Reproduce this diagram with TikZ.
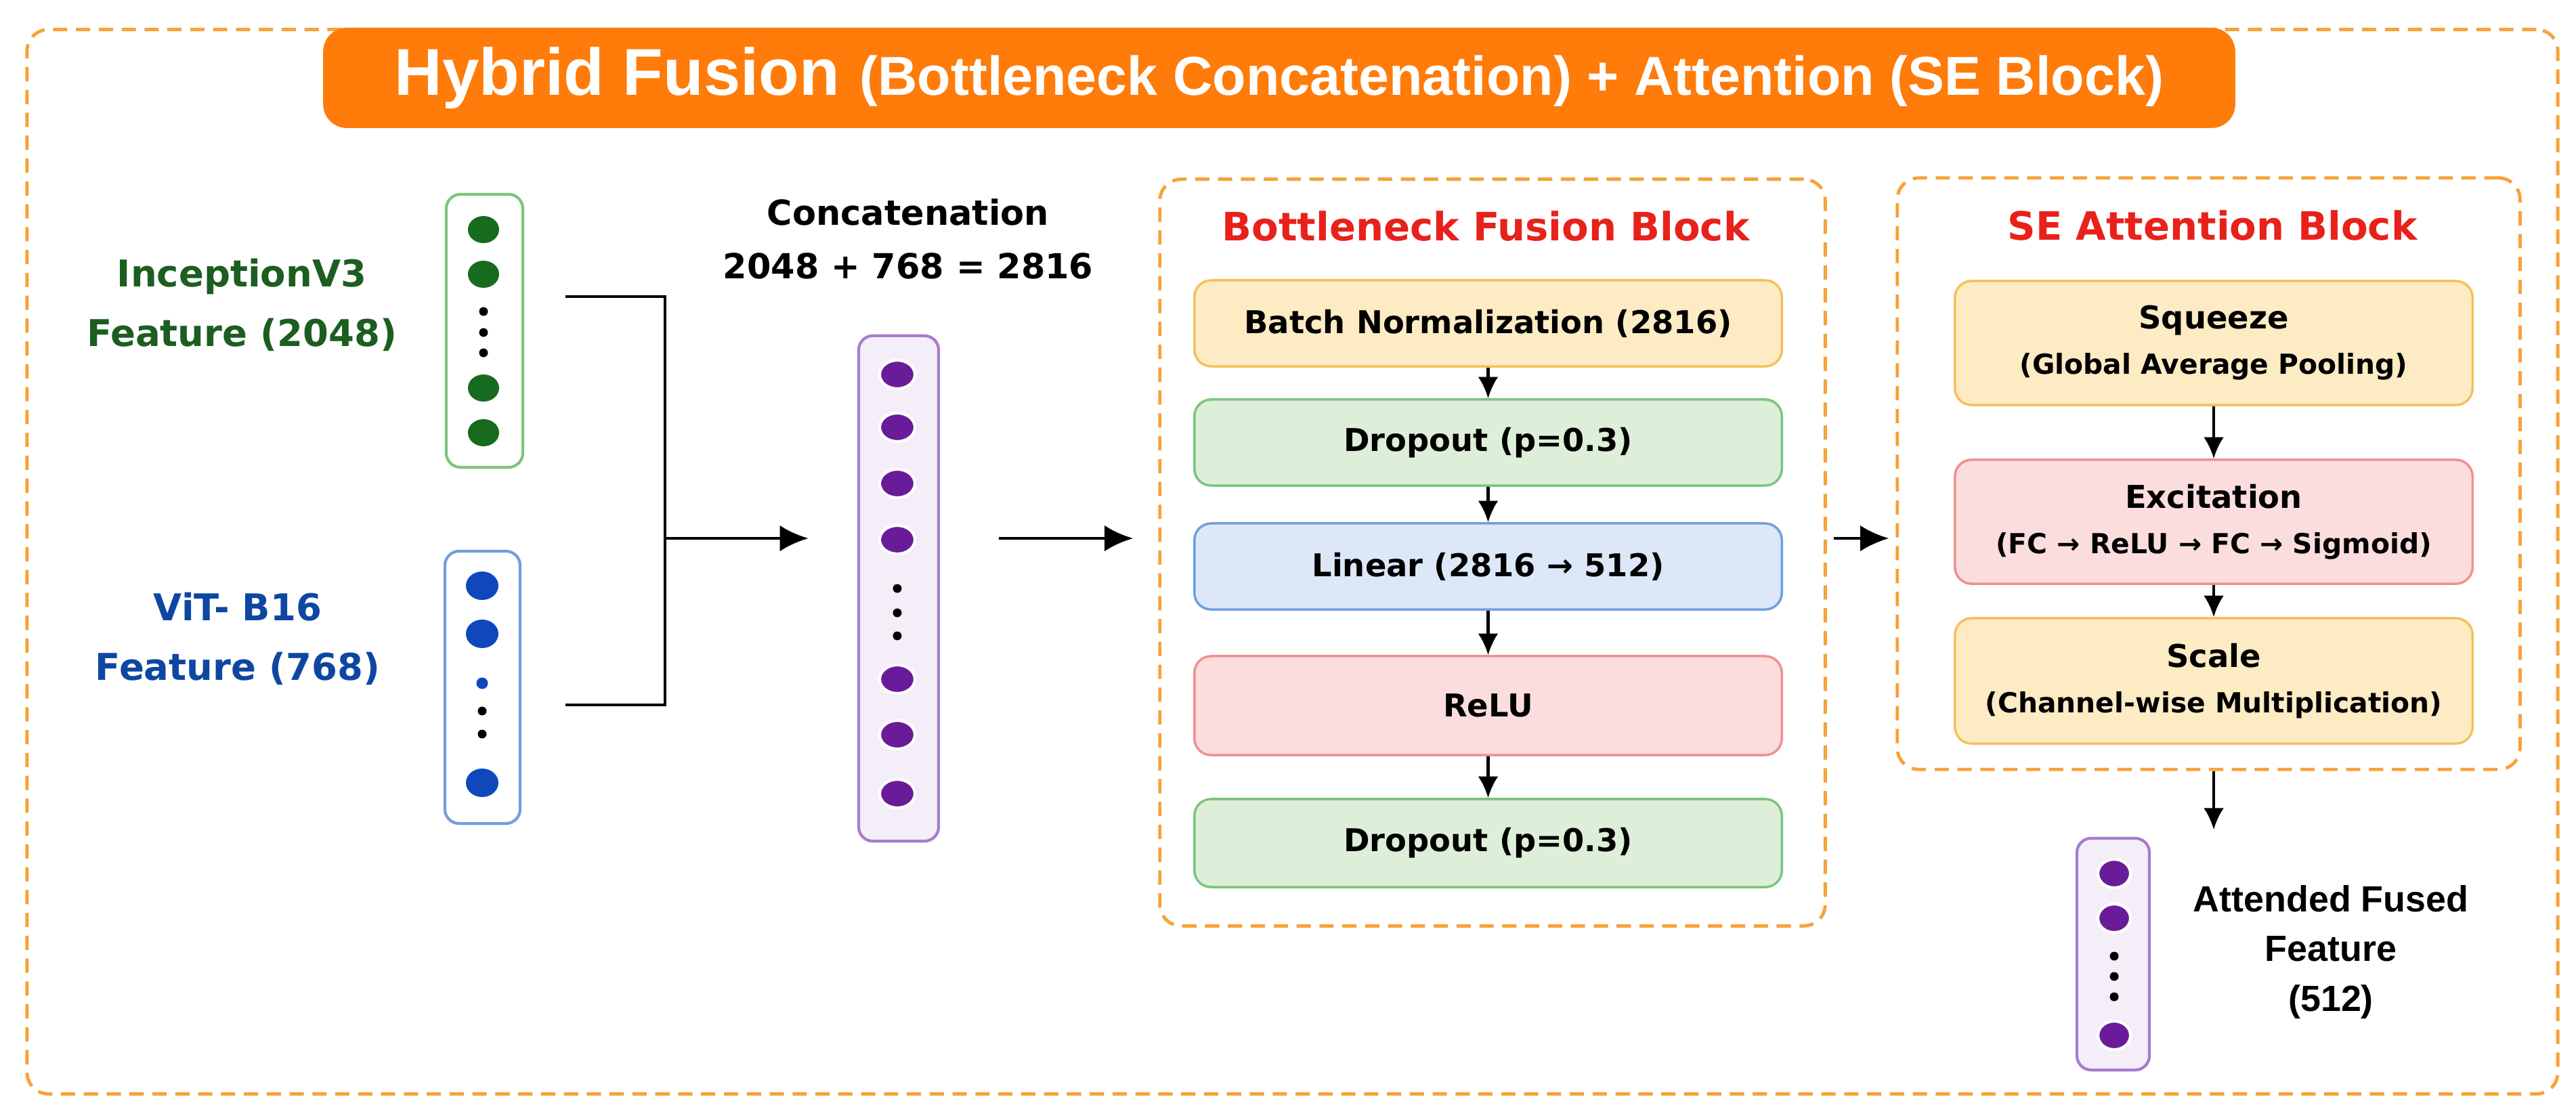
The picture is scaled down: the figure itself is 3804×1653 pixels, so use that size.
\documentclass[tikz,border=0pt]{standalone}
\usepackage{fontspec}
\setmainfont{DejaVu Sans}
\newfontfamily\arialfont{Liberation Sans}
\usetikzlibrary{arrows.meta}

\definecolor{frameorange}{HTML}{F7A23A}
\definecolor{bannerorange}{HTML}{FF7B0A}
\definecolor{titlered}{HTML}{E8211B}
\definecolor{incgreen}{HTML}{1B5E20}
\definecolor{vitblue}{HTML}{0D47A1}
\definecolor{yelfill}{HTML}{FDEBC4}
\definecolor{yeldraw}{HTML}{F5C05C}
\definecolor{grnfill}{HTML}{DDEFD8}
\definecolor{grndraw}{HTML}{7DC47E}
\definecolor{blufill}{HTML}{DCE8F8}
\definecolor{bludraw}{HTML}{6FA0DE}
\definecolor{redfill}{HTML}{FCDDDD}
\definecolor{reddraw}{HTML}{F19090}
\definecolor{purdraw}{HTML}{A67CCF}
\definecolor{purfill}{HTML}{F4EEF9}
\definecolor{purdot}{HTML}{6A1B9A}
\definecolor{grndot}{HTML}{166B1E}
\definecolor{bludot}{HTML}{1048BC}

\begin{document}
\begin{tikzpicture}[x=0.01cm, y=-0.01cm,
	frame/.style={draw=frameorange, line width=1.4pt, dash pattern=on 6pt off 3.6pt, rounded corners=9pt},
	blocktitle/.style={text=titlered, font=\fontsize{16.4}{19}\selectfont\bfseries},
	layer/.style={draw=#1draw, fill=#1fill, line width=1pt, rounded corners=7pt, align=center, font=\fontsize{13.2}{19}\selectfont\bfseries},
	vecbox/.style={draw=#1, line width=1.2pt, rounded corners=6pt},
	label/.style={align=center, font=\fontsize{15.5}{25}\selectfont\bfseries},
	arr/.style={-{Latex[length=9pt,width=8.5pt]}, line width=1.2pt},
	bigarr/.style={-{Latex[length=12pt,width=11pt]}, line width=1.4pt}]
	\useasboundingbox[fill=white] (0,0) rectangle (3804,1653);
	% outer frame and banner
	\node[frame, minimum width=37.35cm, minimum height=15.71cm] (outer) at (1908.5,829.5) {};
	\node[fill=bannerorange, rounded corners=10pt, minimum width=28.22cm, minimum height=1.48cm, text=white, font=\arialfont\bfseries] (banner) at (1889,115)
		{\fontsize{27.8}{30}\selectfont Hybrid Fusion\hspace{0.3em}\fontsize{23}{30}\selectfont(Bottleneck Concatenation) + Attention (SE Block)};
	% input vectors
	\node[vecbox=grndraw, minimum width=1.13cm, minimum height=4.03cm] (incvec) at (715.5,488.5) {};
	\node[vecbox=bludraw, minimum width=1.11cm, minimum height=4.02cm] (vitvec) at (712.5,1015) {};
	\foreach \y in {339,405,573,639} \fill[grndot] (714,\y) ellipse (0.23cm and 0.2cm);
	\foreach \y in {460,491,521} \fill (714,\y) circle (0.065cm);
	\foreach \y in {865,936,1156} \fill[bludot] (712,\y) ellipse (0.24cm and 0.21cm);
	\fill[bludot] (712,1009) circle (0.085cm);
	\foreach \y in {1050,1084} \fill (712,\y) circle (0.065cm);
	\node[label, text=incgreen] (inclabel) at (357,450) {InceptionV3\\Feature (2048)};
	\node[label, text=vitblue] (vitlabel) at (351,943) {ViT- B16\\Feature (768)};
	% concatenation
	\node[vecbox=purdraw, fill=purfill, minimum width=1.18cm, minimum height=7.46cm] (concat) at (1327,869) {};
	\foreach \y in {553,631,714,797,1003,1085,1172} \filldraw[purdot, draw=white, line width=1.2pt] (1325,\y) ellipse (0.26cm and 0.21cm);
	\foreach \y in {869,905,939} \fill (1325,\y) circle (0.065cm);
	\node[label, font=\fontsize{14.5}{22.5}\selectfont\bfseries] (catlabel) at (1341,353) {Concatenation\\2048 + 768 = 2816};
	\coordinate (inctap) at (835,438);
	\coordinate (vittap) at (835,1041);
	\coordinate (joint) at (982,795);
	\draw[line width=1.4pt] (inctap) -| (joint) |- (vittap);
	\draw[bigarr, shorten >=0.72cm] (joint) -- (joint -| concat.west);
	% bottleneck fusion block
	\node[frame, minimum width=9.82cm, minimum height=11.02cm] (bnframe) at (2204,816) {};
	\node[blocktitle] (bntitle) at (2194,334) {Bottleneck Fusion Block};
	\node[layer=yel, minimum width=8.67cm, minimum height=1.27cm] (bn1) at (2197.5,477.5) {Batch Normalization (2816)};
	\node[layer=grn, minimum width=8.67cm, minimum height=1.27cm] (bn2) at (2197.5,653.5) {Dropout (p=0.3)};
	\node[layer=blu, minimum width=8.67cm, minimum height=1.27cm] (bn3) at (2197.5,836.5) {Linear (2816 → 512)};
	\node[layer=red, minimum width=8.67cm, minimum height=1.46cm] (bn4) at (2197.5,1042) {ReLU};
	\node[layer=grn, minimum width=8.67cm, minimum height=1.30cm] (bn5) at (2197.5,1245) {Dropout (p=0.3)};
	\foreach \a/\b in {bn1/bn2,bn2/bn3,bn3/bn4,bn4/bn5} \draw[arr] (\a) -- (\b);
	\draw[bigarr, shorten <=0.87cm, shorten >=0.37cm] (joint -| concat.east) -- (joint -| bnframe.west);
	% SE attention block
	\node[frame, minimum width=9.19cm, minimum height=8.73cm] (seframe) at (3261.5,699.5) {};
	\node[blocktitle] (setitle) at (3267,333) {SE Attention Block};
	\node[layer=yel, minimum width=7.64cm, minimum height=1.83cm] (squeeze) at (3269,506.5) {Squeeze\\{\fontsize{11.6}{14}\selectfont (Global Average Pooling)}};
	\node[layer=red, minimum width=7.64cm, minimum height=1.83cm] (excite) at (3269,770.5) {Excitation\\{\fontsize{11.6}{14}\selectfont (FC → ReLU → FC → Sigmoid)}};
	\node[layer=yel, minimum width=7.64cm, minimum height=1.85cm] (scale) at (3269,1005.5) {Scale\\{\fontsize{11.6}{14}\selectfont (Channel-wise Multiplication)}};
	\draw[arr] (squeeze) -- (excite);
	\draw[arr] (excite) -- (scale);
	\draw[bigarr, shorten <=0.1cm, shorten >=0.1cm] (joint -| bnframe.east) -- (joint -| seframe.west);
	% output vector
	\coordinate (outtip) at (3269,1225);
	\draw[arr] (outtip |- seframe.south) -- (outtip);
	\node[vecbox=purdraw, fill=purfill, minimum width=1.07cm, minimum height=3.42cm] (outvec) at (3120.5,1409) {};
	\foreach \y in {1290,1356,1529} \filldraw[purdot, draw=white, line width=1.2pt] (3122,\y) ellipse (0.24cm and 0.21cm);
	\foreach \y in {1412,1442,1472} \fill (3122,\y) circle (0.065cm);
	\node[label, font=\arialfont\fontsize{15.3}{20.8}\selectfont\bfseries] (outlabel) at (3442,1406) {Attended Fused\\Feature\\(512)};
\end{tikzpicture}
\end{document}
